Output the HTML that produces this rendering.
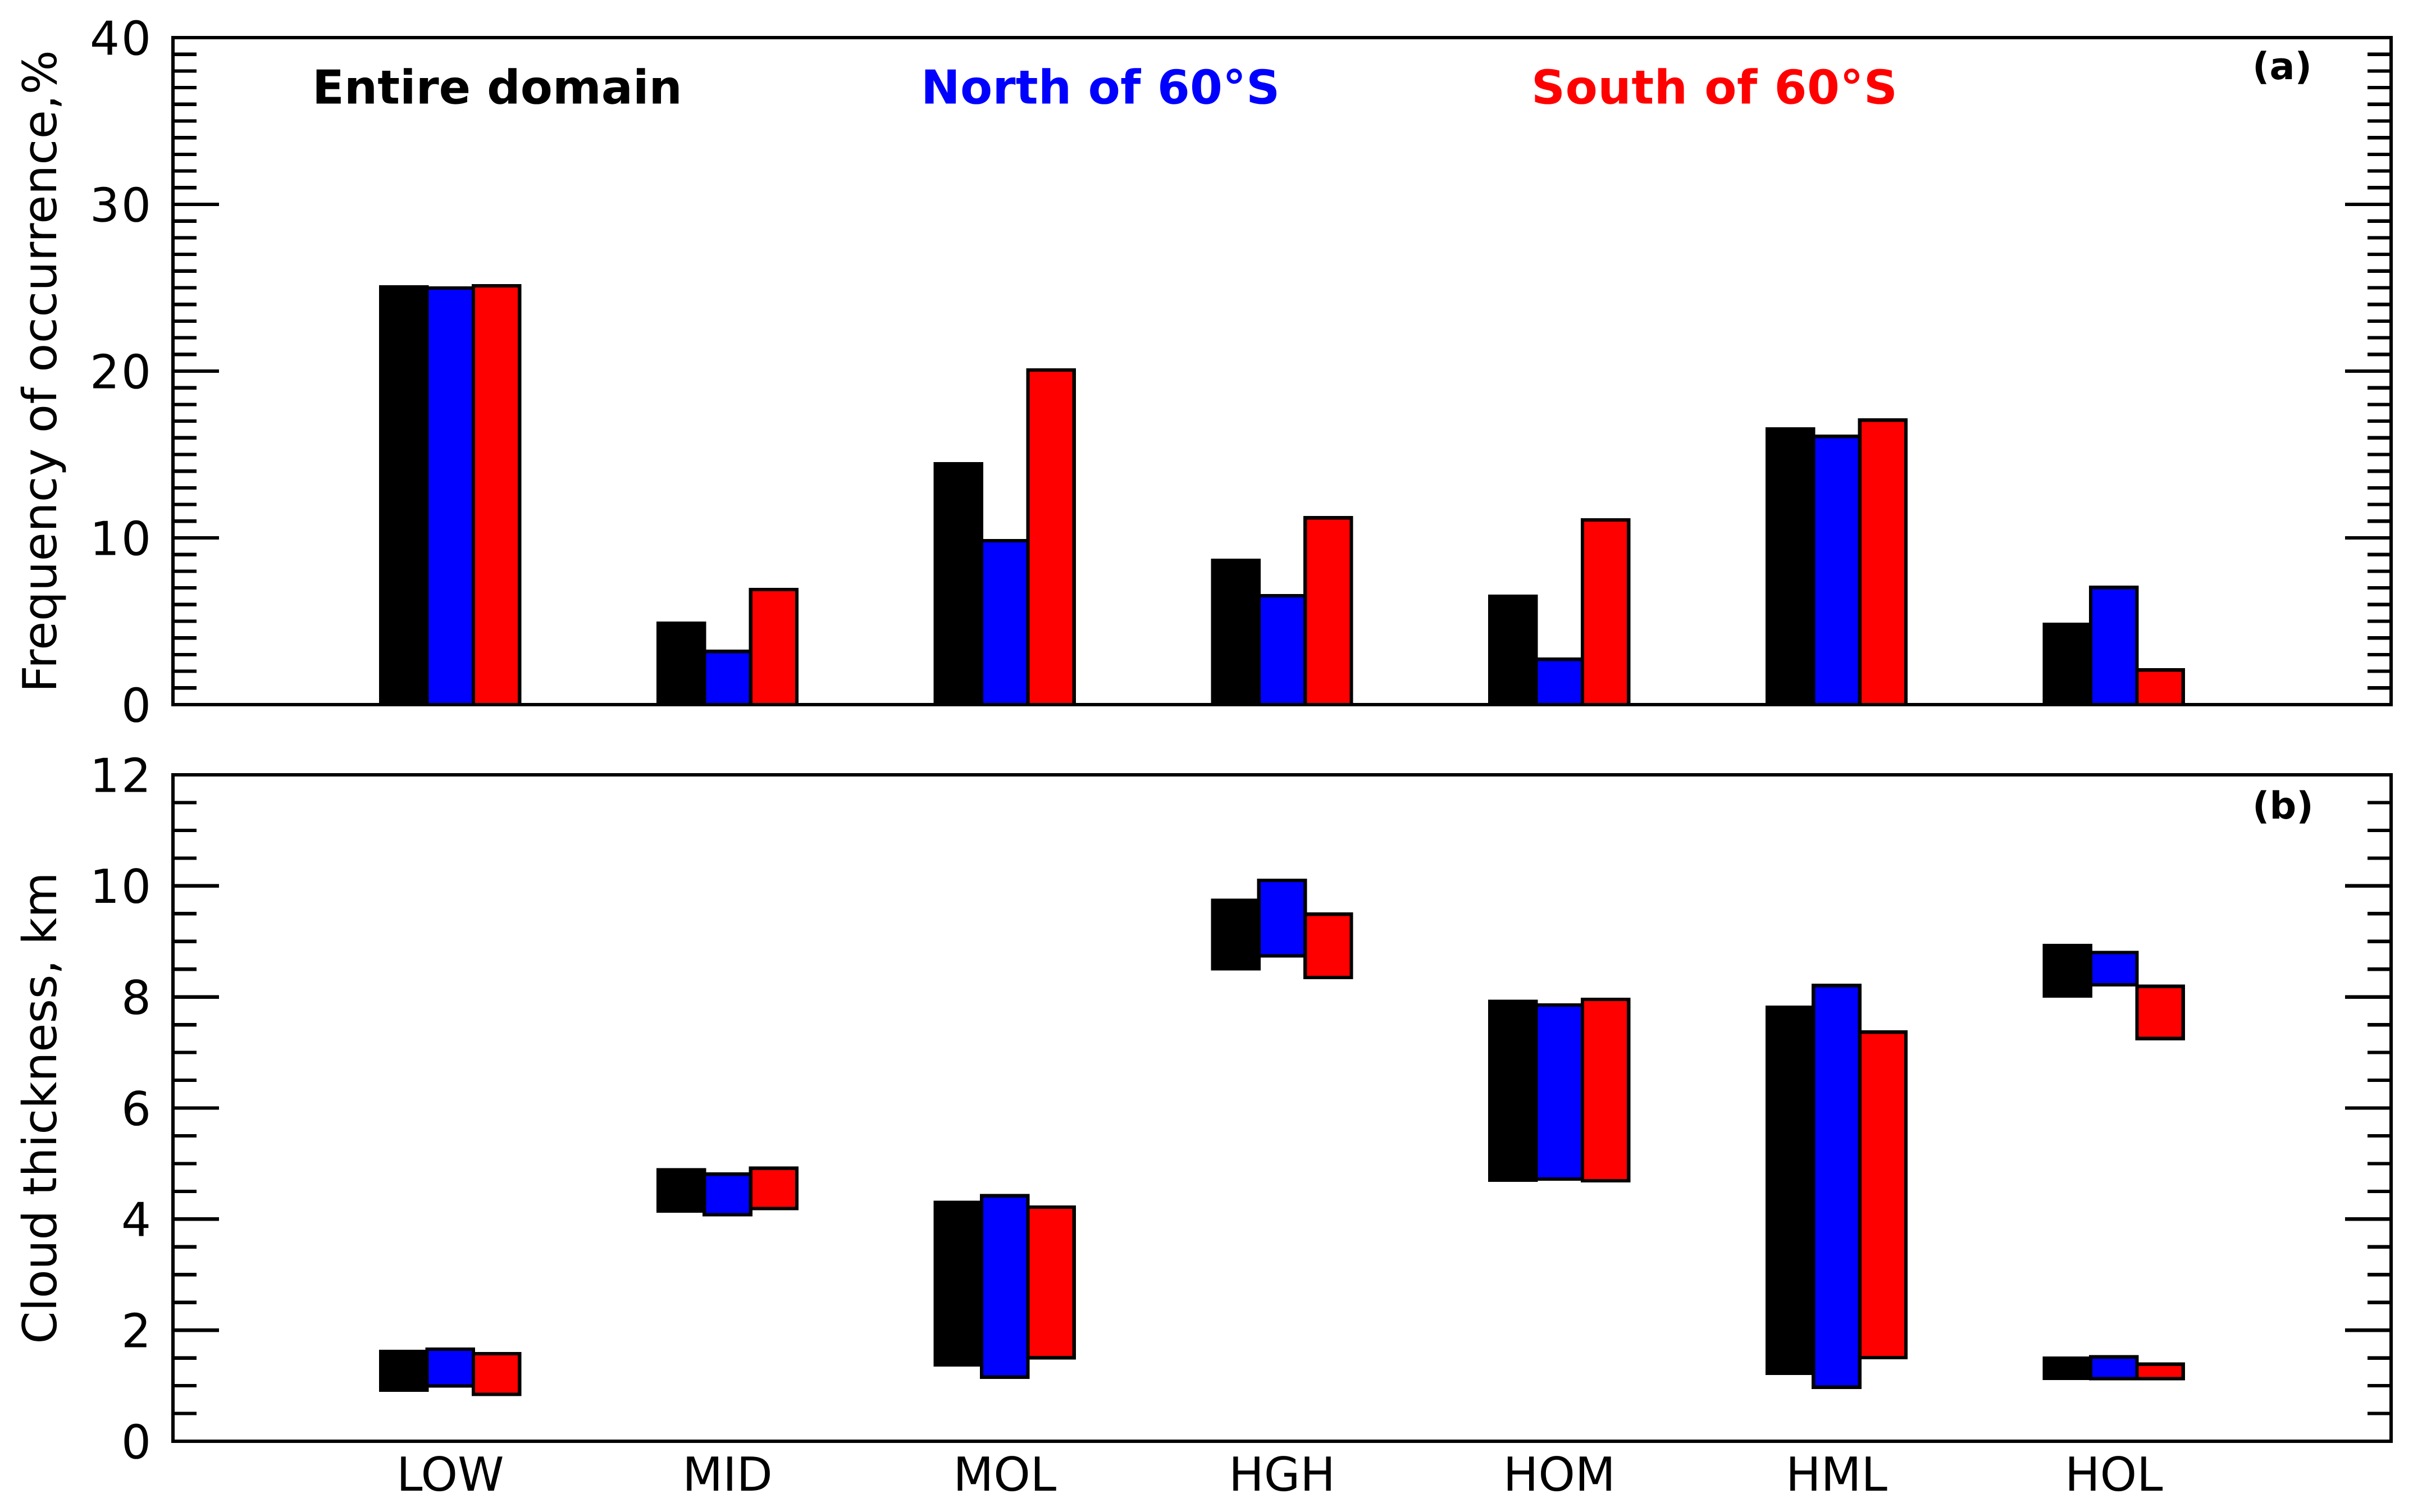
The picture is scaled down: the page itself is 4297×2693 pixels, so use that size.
<!DOCTYPE html>
<html lang="en">
<head>
<meta charset="utf-8">
<title>Cloud occurrence and thickness</title>
<style>
  html, body { margin: 0; padding: 0; background: #fff; }
  svg { display: block; }
  text { font-family: "DejaVu Sans", "Liberation Sans", sans-serif; fill: #000; text-rendering: geometricPrecision; }
  .tick { font-size: 83.3px; }
  .num { letter-spacing: 3px; }
  .bold { font-weight: bold; }
</style>
</head>
<body>
<svg id="chart" xmlns="http://www.w3.org/2000/svg" width="4297" height="2693" viewBox="0 0 4297 2693">
  <rect x="0" y="0" width="4297" height="2693" fill="#fff"/>

  <g id="panelA"></g>
  <g id="panelB"></g>

  <rect x="308" y="67" width="3950" height="1188" fill="none" stroke="#000" stroke-width="6.25" shape-rendering="crispEdges"/>
  <rect x="308" y="1380" width="3950" height="1187" fill="none" stroke="#000" stroke-width="6.25" shape-rendering="crispEdges"/>

  <text class="tick" text-anchor="middle" style="letter-spacing:0.55px" transform="translate(100 661) rotate(-90)">Frequency of occurrence,%</text>
  <text class="tick" text-anchor="middle" transform="translate(100 1973.5) rotate(-90)">Cloud thickness, km</text>

  <text class="tick bold" x="556" y="184.5">Entire domain</text>
  <text class="tick bold" x="1640" y="184.5" style="fill:#00f;letter-spacing:0.25px">North of 60°S</text>
  <text class="tick bold" x="2727" y="184.5" style="fill:#f00;letter-spacing:0.6px">South of 60°S</text>

  <text class="bold" font-size="66.7" x="4011" y="141">(a)</text>
  <text class="bold" font-size="66.7" x="4011" y="1458">(b)</text>
</svg>

<script>
const categories = ["LOW", "MID", "MOL", "HGH", "HOM", "HML", "HOL"];

const freqEntire = [25.05, 4.88, 14.44, 8.65, 6.50, 16.53, 4.81];
const freqNorth  = [24.98, 3.19, 9.83, 6.53, 2.72, 16.09, 7.03];
const freqSouth  = [25.12, 6.90, 20.07, 11.20, 11.08, 17.06, 2.08];

const baseEntire = [0.921, 4.145, 1.376, 8.51, 4.70, 1.223, 8.02];
const topEntire  = [1.617, 4.885, 4.30, 9.74, 7.92, 7.815, 8.926];
const baseNorth  = [0.995, 4.08, 1.155, 8.74, 4.72, 0.973, 8.22];
const topNorth   = [1.657, 4.81, 4.42, 10.10, 7.855, 8.207, 8.80];
const baseSouth  = [0.843, 4.19, 1.504, 8.35, 4.69, 1.507, 7.25];
const topSouth   = [1.576, 4.915, 4.216, 9.49, 7.957, 7.367, 8.19];

const holLowerCategory = ["HOL"];
const holLowerBase = [1.133, 1.127, 1.127];
const holLowerTop  = [1.495, 1.518, 1.388];

const freqTickLabels = [0, 10, 20, 30, 40];
const freqMinorTicks = [1,2,3,4,5,6,7,8,9,11,12,13,14,15,16,17,18,19,21,22,23,24,25,26,27,28,29,31,32,33,34,35,36,37,38,39];
const thickTickLabels = [0, 2, 4, 6, 8, 10, 12];
const thickMinorTicks = [0.5,1,1.5,2.5,3,3.5,4.5,5,5.5,6.5,7,7.5,8.5,9,9.5,10.5,11,11.5];

const seriesNames = ["entire", "north", "south"];
const seriesColors = ["#000", "#00f", "#f00"];

const NS = "http://www.w3.org/2000/svg";
const X_LEFT = 308, X_RIGHT = 4258, X_MAX = 8;
const BAR_UNITS = 1 / 6;
const MAJOR_LEN = 82, MINOR_LEN = 42;

function xAxis(v) { return X_LEFT + (X_RIGHT - X_LEFT) * v / X_MAX; }
function yFreq(v) { return 1255 - (1255 - 67) * v / 40; }
function yThick(v) { return 2567 - (2567 - 1380) * v / 12; }

function make(tag, attrs, parent) {
  const el = document.createElementNS(NS, tag);
  for (const k in attrs) el.setAttribute(k, attrs[k]);
  parent.appendChild(el);
  return el;
}

function drawBar(parent, catIndex, seriesIndex, low, high, y, prefix) {
  const center = xAxis(catIndex + 1 + (seriesIndex - 1) * BAR_UNITS);
  const x0 = center - xAxis(BAR_UNITS / 2) + X_LEFT;
  const w = xAxis(BAR_UNITS) - X_LEFT;
  const el = make("rect", {
    x: x0, y: y(high), width: w, height: y(low) - y(high),
    fill: seriesColors[seriesIndex], stroke: "#000", "stroke-width": 6.25,
    "shape-rendering": "crispEdges"
  }, parent);
  
  
  return el;
}

function drawTick(parent, yPix, len, side, name) {
  const x1 = side === "left" ? X_LEFT : X_RIGHT;
  const x2 = side === "left" ? X_LEFT + len : X_RIGHT - len;
  const el = make("line", {
    x1: x1, x2: x2, y1: yPix, y2: yPix,
    stroke: "#000", "stroke-width": 6.25, "shape-rendering": "crispEdges"
  }, parent);
  
  
}

function drawYAxis(parent, majors, minors, y, prefix) {
  majors.forEach(function (v) {
    drawTick(parent, y(v), MAJOR_LEN, "left", prefix + '-major-tick-left');
    drawTick(parent, y(v), MAJOR_LEN, "right", prefix + '-major-tick-right');
    const label = make("text", { x: 272, y: y(v) + 30.4, "text-anchor": "end", "class": "tick num" }, parent);
    label.textContent = String(v);
    
    
  });
  minors.forEach(function (v) {
    drawTick(parent, y(v), MINOR_LEN, "left", prefix + '-minor-tick-left');
    drawTick(parent, y(v), MINOR_LEN, "right", prefix + '-minor-tick-right');
  });
}

const panelA = document.getElementById("panelA");
const panelB = document.getElementById("panelB");

drawYAxis(panelA, freqTickLabels, freqMinorTicks, yFreq, 'frequency');
drawYAxis(panelB, thickTickLabels, thickMinorTicks, yThick, 'thickness');

[freqEntire, freqNorth, freqSouth].forEach(function (values, s) {
  values.forEach(function (v, c) {
    drawBar(panelA, c, s, 0, v, yFreq, 'frequency');
  });
});

const thickBases = [baseEntire, baseNorth, baseSouth];
const thickTops = [topEntire, topNorth, topSouth];
thickBases.forEach(function (bases, s) {
  bases.forEach(function (b, c) {
    drawBar(panelB, c, s, b, thickTops[s][c], yThick, 'thickness');
  });
});
holLowerBase.forEach(function (b, s) {
  drawBar(panelB, categories.indexOf(holLowerCategory[0]), s, b, holLowerTop[s], yThick, 'thickness-lower');
});

categories.forEach(function (name, c) {
  const label = make("text", { x: xAxis(c + 1), y: 2655, "text-anchor": "middle", "class": "tick" }, panelB);
  label.textContent = name;
  
  
});
</script>
</body>
</html>
